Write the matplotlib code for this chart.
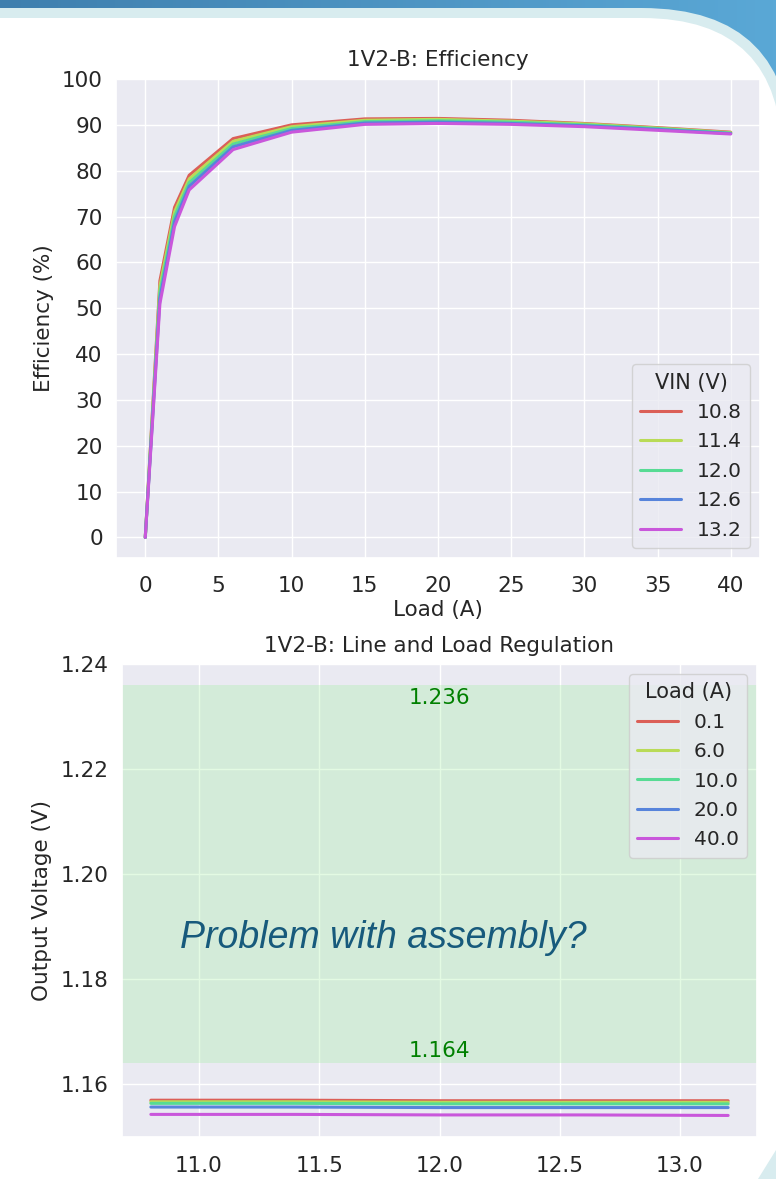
import numpy as np
import matplotlib
matplotlib.use('Agg')
import matplotlib.pyplot as plt
import seaborn as sns
from matplotlib.patches import FancyBboxPatch, Polygon

# efficiency vs load, one series per input voltage
loads = [0, 1, 2, 3, 6, 10, 15, 20, 25, 30, 35, 40]
vin_labels = ['10.8', '11.4', '12.0', '12.6', '13.2']
eff_108 = [0, 56.0, 72.0, 79.0, 87.0, 90.0, 91.3, 91.4, 91.0, 90.3, 89.4, 88.4]
eff_114 = [0, 54.8, 71.0, 78.2, 86.4, 89.6, 91.0, 91.2, 90.8, 90.2, 89.3, 88.3]
eff_120 = [0, 53.5, 70.0, 77.4, 85.8, 89.2, 90.7, 90.9, 90.6, 90.0, 89.2, 88.2]
eff_126 = [0, 52.2, 68.9, 76.6, 85.2, 88.8, 90.4, 90.6, 90.3, 89.8, 89.0, 88.1]
eff_132 = [0, 51.0, 67.8, 75.8, 84.6, 88.4, 90.1, 90.3, 90.1, 89.6, 88.8, 88.0]

# output voltage vs input voltage, one series per load
vin = [10.8, 11.4, 12.0, 12.6, 13.2]
load_labels = ['0.1', '6.0', '10.0', '20.0', '40.0']
vout_01 = [1.1570, 1.1570, 1.1569, 1.1569, 1.1569]
vout_6 = [1.1567, 1.1567, 1.1566, 1.1566, 1.1566]
vout_10 = [1.1564, 1.1564, 1.1563, 1.1563, 1.1563]
vout_20 = [1.1557, 1.1557, 1.1556, 1.1556, 1.1556]
vout_40 = [1.1543, 1.1543, 1.1542, 1.1542, 1.1541]

vmin, vmax = 1.164, 1.236

sns.set_theme(style='darkgrid')
plt.rcParams['font.family'] = ['DejaVu Sans']
FS = 15.5
LFS = 14.5

W, H = 776, 1179
fig = plt.figure(figsize=(W / 100, H / 100), dpi=100)
fig.patch.set_facecolor('white')

# slide-like background decoration (pixel coordinates)
bg = fig.add_axes([0, 0, 1, 1], zorder=-10)
bg.set_xlim(0, W)
bg.set_ylim(H, 0)
bg.axis('off')
grad = np.linspace(0, 1, 256).reshape(1, -1)
cmap = matplotlib.colors.LinearSegmentedColormap.from_list('band', ['#3f7fae', '#5aa8d6'])
bg.imshow(grad, extent=[0, W, 220, 0], aspect='auto', cmap=cmap, zorder=0)
bg.add_patch(FancyBboxPatch((-400, 8), 400 + 792, 3000, boxstyle='round,pad=0,rounding_size=150',
                            fc='#d8ecef', ec='none', zorder=1))
bg.add_patch(FancyBboxPatch((-400, 18), 400 + 782, 3000, boxstyle='round,pad=0,rounding_size=140',
                            fc='white', ec='none', zorder=2))
bg.add_patch(Polygon([(776, 1150), (776, 1179), (758, 1179)], closed=True, fc='#d8ecef', ec='none', zorder=3))

colors = sns.color_palette('hls', 5)

# ---- efficiency ----
ax1 = fig.add_axes([116 / W, 1 - 558 / H, 644 / W, 479 / H])
for s, lab, c in zip([eff_108, eff_114, eff_120, eff_126, eff_132], vin_labels, colors):
    ax1.plot(loads, s, color=c, lw=2.2, label=lab)
ax1.set_ylim(-4.5, 100)
ax1.set_yticks(range(0, 101, 10))
ax1.set_xticks(range(0, 41, 5))
ax1.tick_params(labelsize=FS)
ax1.tick_params(axis='x', pad=7)
ax1.set_xlabel('Load (A)', fontsize=FS, labelpad=3)
ax1.set_ylabel('Efficiency (%)', fontsize=FS, labelpad=6)
ax1.set_title('1V2-B: Efficiency', fontsize=FS, pad=9)
ax1.legend(title='VIN (V)', loc='lower right', fontsize=LFS, title_fontsize=LFS + 0.5,
           handlelength=2.0, labelspacing=0.52)

# ---- line and load regulation ----
ax2 = fig.add_axes([122 / W, 1 - 1137 / H, 635 / W, 473 / H])
for s, lab, c in zip([vout_01, vout_6, vout_10, vout_20, vout_40], load_labels, colors):
    ax2.plot(vin, s, color=c, lw=2.2, label=lab)
ax2.axhspan(vmin, vmax, color='lightgreen', alpha=0.25, lw=0, zorder=2.5)
ax2.text(12.0, vmax - 0.0005, f'{vmax:.3f}', color='green', ha='center', va='top', fontsize=FS, zorder=4)
ax2.text(12.0, vmin + 0.0005, f'{vmin:.3f}', color='green', ha='center', va='bottom', fontsize=FS, zorder=4)
ax2.text(10.92, 1.1878, 'Problem with assembly?', family='Liberation Sans', style='italic',
         fontsize=27, color='#175a7c', va='center', ha='left', zorder=4)
ax2.set_ylim(1.150, 1.240)
ax2.set_yticks([1.16, 1.18, 1.20, 1.22, 1.24])
ax2.set_yticklabels([f'{v:.2f}' for v in [1.16, 1.18, 1.20, 1.22, 1.24]])
ax2.set_xticks([11.0, 11.5, 12.0, 12.5, 13.0])
ax2.tick_params(labelsize=FS)
ax2.tick_params(axis='x', pad=8)
ax2.set_ylabel('Output Voltage (V)', fontsize=FS, labelpad=6)
ax2.set_title('1V2-B: Line and Load Regulation', fontsize=FS, pad=9)
leg = ax2.legend(title='Load (A)', loc='upper right', fontsize=LFS, title_fontsize=LFS + 0.5,
                 handlelength=2.0, labelspacing=0.52)
leg.set_zorder(5)

fig.savefig('out.png', dpi=100)
